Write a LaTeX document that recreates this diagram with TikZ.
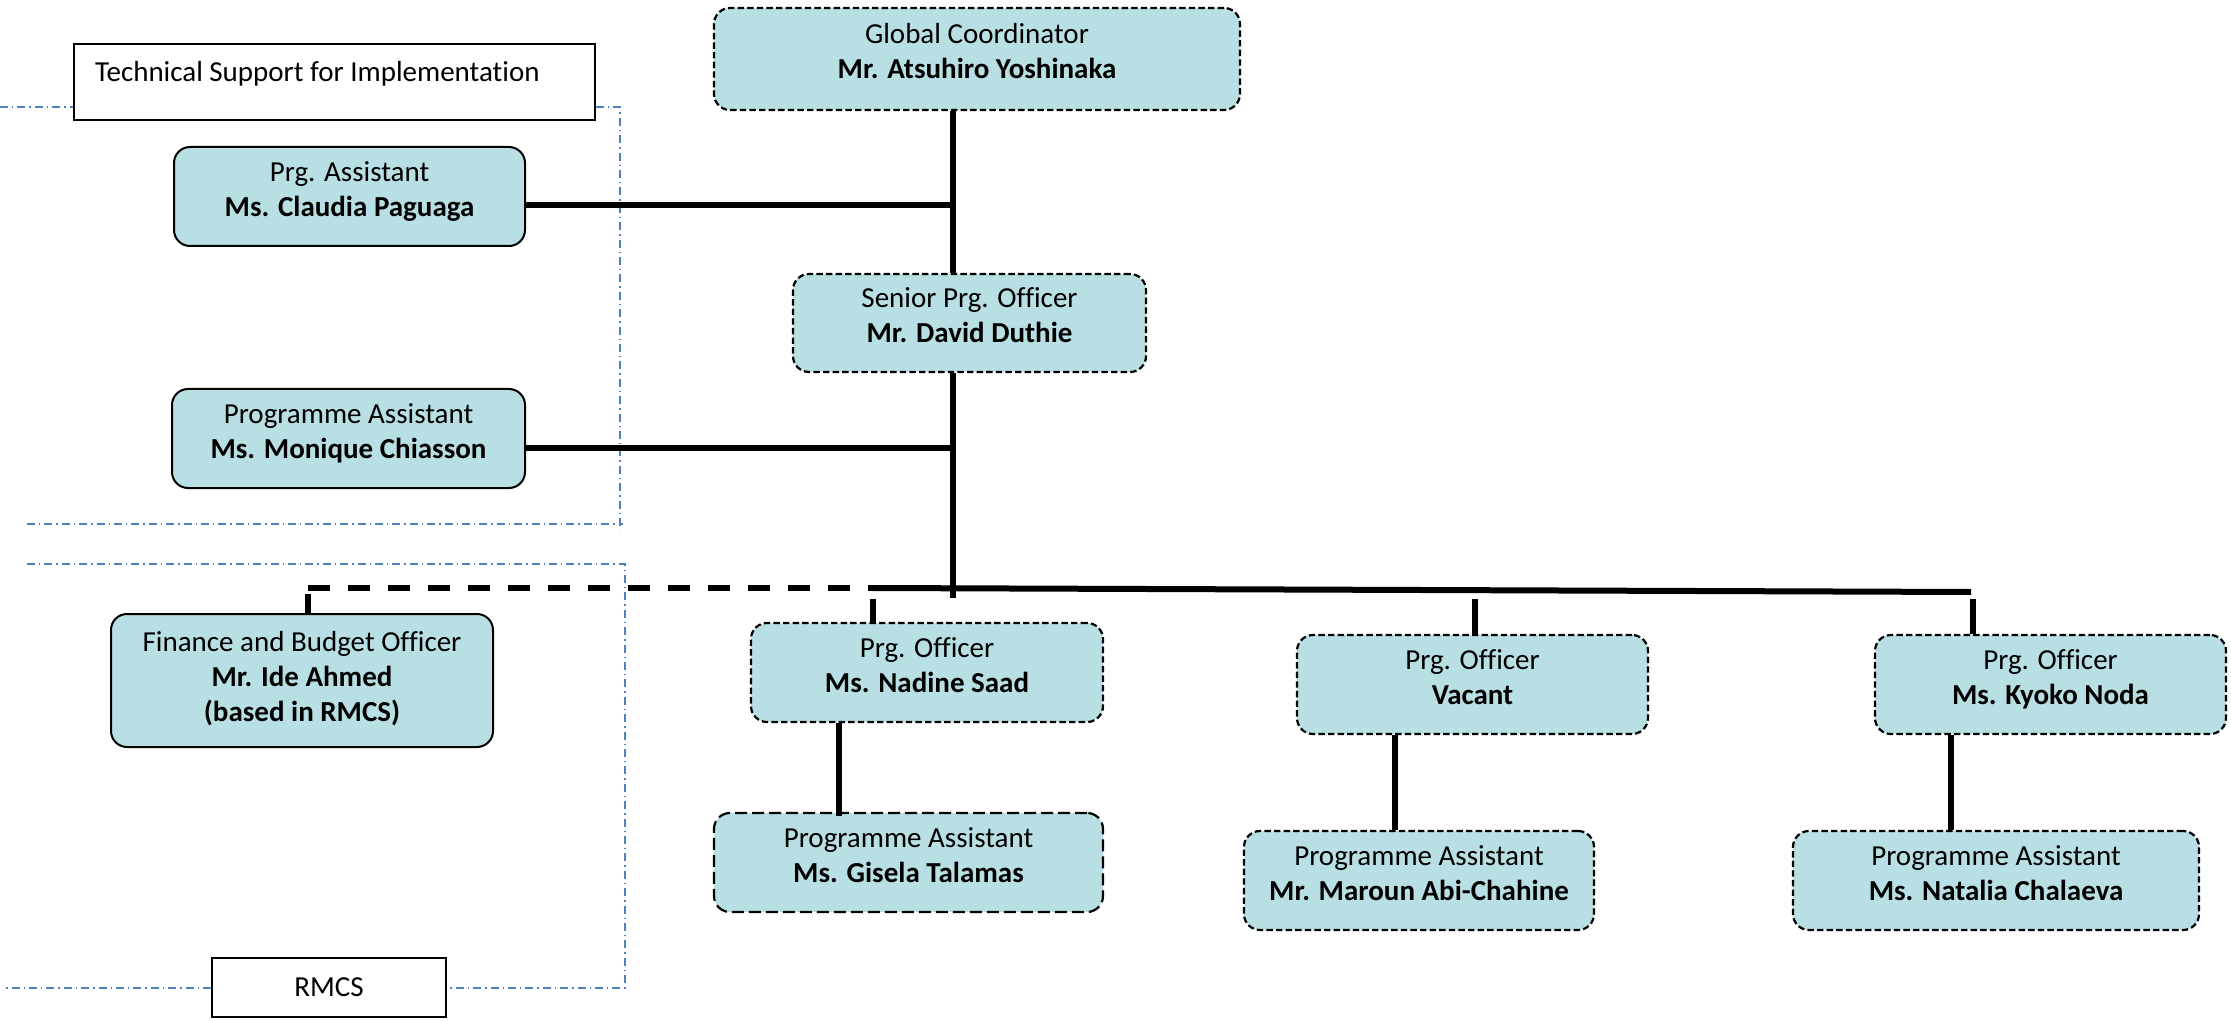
\documentclass[tikz,border=0pt]{standalone}
\usepackage{fontspec}
\setmainfont{Carlito}[Ligatures=NoCommon]
\definecolor{boxfill}{HTML}{B8DFE3}
\definecolor{zoneblue}{HTML}{4F81BD}
\newcommand\orgtext[2]{\begin{tabular}{@{}c@{}}#1\\\textbf{#2}\end{tabular}}
\begin{document}
\begin{tikzpicture}[x=0.5pt,y=-0.5pt,
  txt/.style={font=\fontsize{14.5}{17.5}\selectfont},
  orgbox/.style={rectangle, rounded corners=8pt, fill=boxfill, draw=black, line width=1pt, inner sep=0pt, text height=2.5pt, text depth=0pt, txt},
  dashbox/.style={orgbox, line width=1.1pt, dash pattern=on 3.2pt off 1.6pt},
  longdashbox/.style={orgbox, line width=1.1pt, dash pattern=on 6pt off 2.5pt},
  solidbox/.style={orgbox},
  plainbox/.style={rectangle, draw=black, line width=1pt, fill=white, inner xsep=10.5pt, inner ysep=0pt, txt},
  conn/.style={line width=3pt},
  tickconn/.style={line width=2.6pt},
  dashconn/.style={line width=3pt, dash pattern=on 11pt off 9pt},
  zone/.style={draw=zoneblue, line width=0.75pt, dash pattern=on 4pt off 2pt on 0.7pt off 2pt}
]
\useasboundingbox (0,0) rectangle (2231,1021);

% zone outlines
\node[plainbox, minimum height=38pt, text height=0pt, text depth=0pt] (tsi) at (334.5,82)
  {\makebox[239.5pt][l]{Technical Support for Implementation}};
\node[plainbox, minimum width=117pt, minimum height=29.5pt, inner xsep=0pt] (rmcs) at (329,987.5) {RMCS};

\draw[zone] (0,107) -- (tsi.west |- 0,107);
\draw[zone] (tsi.east |- 0,107) -- (620,107) -- (620,530);
\draw[zone] (27,524) -- (623,524);
\draw[zone] (27,564) -- (625,564) -- (625,988) -- (rmcs.east |- 0,988);
\draw[zone] (rmcs.west |- 0,988) -- (5,988);

% boxes
\node[dashbox, minimum width=263pt, minimum height=51pt] (gc) at (977,59)
  {\orgtext{Global Coordinator}{Mr. Atsuhiro Yoshinaka}};
\node[solidbox, minimum width=175.5pt, minimum height=49.5pt] (claudia) at (349.5,196.5)
  {\orgtext{Prg. Assistant}{Ms. Claudia Paguaga}};
\node[dashbox, minimum width=176.5pt, minimum height=49pt] (senior) at (969.5,323)
  {\orgtext{Senior Prg. Officer}{Mr. David Duthie}};
\node[solidbox, minimum width=176.5pt, minimum height=49.5pt] (monique) at (348.5,438.5)
  {\orgtext{Programme Assistant}{Ms. Monique Chiasson}};
\node[solidbox, minimum width=191pt, minimum height=66.5pt, text height=6pt] (finance) at (302,680.5)
  {\begin{tabular}{@{}c@{}}Finance and Budget Officer\\\textbf{Mr. Ide Ahmed}\\\textbf{(based in RMCS)}\end{tabular}};
\node[dashbox, minimum width=176pt, minimum height=49.5pt] (nadine) at (927,672.5)
  {\orgtext{Prg. Officer}{Ms. Nadine Saad}};
\node[longdashbox, minimum width=194.5pt, minimum height=49.5pt] (gisela) at (908.5,862.5)
  {\orgtext{Programme Assistant}{Ms. Gisela Talamas}};
\node[dashbox, minimum width=175.5pt, minimum height=49.5pt] (vacant) at (1472.5,684.5)
  {\orgtext{Prg. Officer}{Vacant}};
\node[dashbox, minimum width=175pt, minimum height=49.5pt] (maroun) at (1419,880.5)
  {\orgtext{Programme Assistant}{Mr. Maroun Abi-Chahine}};
\node[dashbox, minimum width=175.5pt, minimum height=49.5pt] (kyoko) at (2050.5,684.5)
  {\orgtext{Prg. Officer}{Ms. Kyoko Noda}};
\node[dashbox, minimum width=203pt, minimum height=49.5pt] (natalia) at (1996,880.5)
  {\orgtext{Programme Assistant}{Ms. Natalia Chalaeva}};

% connector coordinates
\coordinate (spine) at (953,588);
\coordinate (spinebot) at (953,598);
\coordinate (ftick) at (308,588);
\coordinate (dashend) at (873,588);
\coordinate (barend) at (1971,592);
\coordinate (t1) at (873,599);
\coordinate (t2) at (1475,599);
\coordinate (t3) at (1973,599);

% connectors
\draw[conn] (gc.south -| spine) -- (senior.north -| spine);
\draw[conn] (senior.south -| spine) -- (spinebot);
\draw[conn] (claudia.east |- 0,205) -- (spine |- 0,205);
\draw[conn] (monique.east |- 0,448) -- (spine |- 0,448);
\draw[dashconn] (ftick) -- (dashend);
\draw[conn] (dashend) -- (barend);
\draw[tickconn] ([yshift=-3pt]ftick) -- (finance.north -| ftick);
\draw[tickconn] (t1) -- (nadine.north -| t1);
\draw[tickconn] (t2) -- (vacant.north -| t2);
\draw[tickconn] (t3) -- (kyoko.north -| t3);
\draw[tickconn] (nadine.south -| 839,0) -- ([yshift=-2pt]gisela.north -| 839,0);
\draw[tickconn] (vacant.south -| 1395,0) -- (maroun.north -| 1395,0);
\draw[tickconn] (kyoko.south -| 1951,0) -- (natalia.north -| 1951,0);
\end{tikzpicture}
\end{document}
